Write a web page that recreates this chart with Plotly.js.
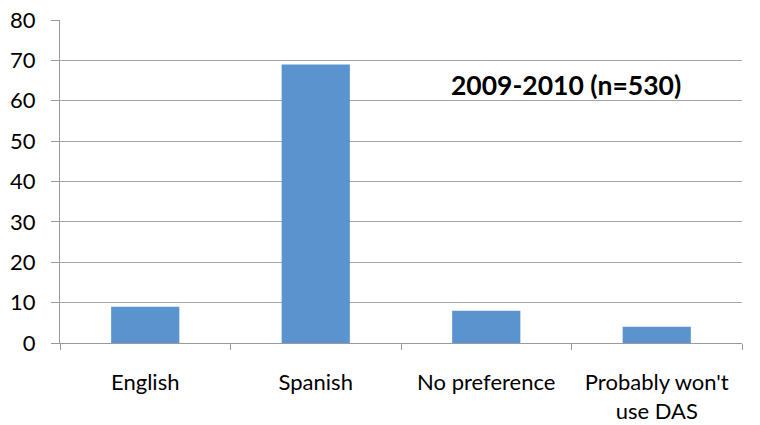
<!DOCTYPE html>
<html>
<head>
<meta charset="utf-8">
<script src="https://cdn.plot.ly/plotly-3.0.1.min.js"></script>
<style>html,body{margin:0;padding:0;background:#fff;}#chart{width:760px;height:425px;}</style>
</head>
<body>
<div id="chart"></div>
<script>
const categories = ["English", "Spanish", "No preference", "Probably won't<br>use DAS"];
const values = [9, 69, 8, 4];
const yTicks = [0, 10, 20, 30, 40, 50, 60, 70, 80];
const chartLabel = "2009-2010 (n=530)";

const trace = {
  type: 'bar',
  x: categories,
  y: values,
  marker: {color: '#5b93cf'},
  width: 0.4,
  hoverinfo: 'none'
};

const layout = {
  width: 760, height: 425,
  margin: {l: 60, r: 18, t: 20, b: 82},
  paper_bgcolor: '#fff', plot_bgcolor: '#fff',
  font: {family: 'Lato, "Open Sans", sans-serif', color: '#000'},
  showlegend: false,
  xaxis: {
    type: 'category',
    showline: true, linecolor: '#999', linewidth: 1,
    ticks: 'outside', tickson: 'boundaries', ticklen: 6, tickcolor: '#999',
    tickfont: {size: 22, family: 'Lato, sans-serif', color: '#000'},
    ticklabelstandoff: 20,
    showgrid: false, zeroline: false, fixedrange: true
  },
  yaxis: {
    range: [0, 80],
    tickvals: yTicks,
    ticktext: yTicks.map(String),
    showline: true, linecolor: '#999', linewidth: 1,
    ticks: 'outside', ticklen: 8, tickcolor: '#999',
    tickfont: {size: 22, family: 'Lato, sans-serif', color: '#000'},
    ticklabelstandoff: 11,
    showgrid: true, gridcolor: '#a6a6a6', gridwidth: 1,
    zeroline: false, fixedrange: true
  },
  annotations: [{
    text: '<b>' + chartLabel + '</b>',
    xref: 'paper', yref: 'paper',
    x: 0.742, y: 0.80,
    xanchor: 'center', yanchor: 'middle',
    showarrow: false,
    font: {size: 26.5, family: 'Lato, sans-serif', color: '#000'}
  }]
};

Plotly.newPlot('chart', [trace], layout, {displayModeBar: false, staticPlot: true});
</script>
</body>
</html>
